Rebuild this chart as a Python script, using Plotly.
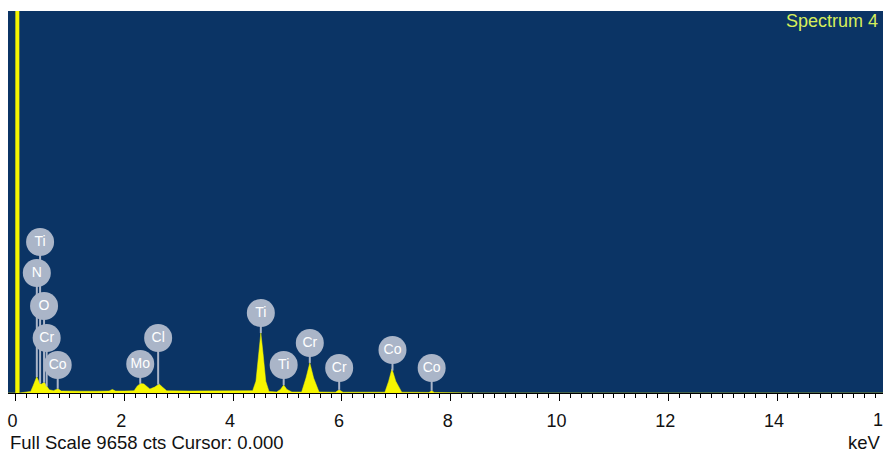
import numpy as np
import plotly.graph_objects as go

# ---------------- data ----------------
energy_kev = [-0.14, -0.01, 0.0, 0.005, 0.06, 0.07, 0.20, 0.28, 0.33, 0.39, 0.44, 0.47,
              0.53, 0.58, 0.62, 0.70, 0.78, 0.84, 0.95, 1.20, 1.50, 1.72, 1.78, 1.84,
              2.00, 2.18, 2.24, 2.30, 2.36, 2.47, 2.56, 2.64, 2.70, 2.78, 3.20, 3.80,
              4.20, 4.36, 4.42, 4.47, 4.51, 4.55, 4.60, 4.66, 4.80, 4.87, 4.93, 4.99,
              5.08, 5.26, 5.34, 5.41, 5.48, 5.58, 5.88, 5.95, 6.02, 6.79, 6.86, 6.92,
              6.99, 7.10, 7.60, 7.65, 7.70, 8.50, 10.0, 12.0, 14.0, 16.0]
counts = [0, 0, 0, 20000, 20000, 0, 20, 40, 200, 410, 260, 220,
          270, 150, 80, 60, 110, 50, 45, 45, 45, 50, 90, 50,
          50, 55, 180, 240, 230, 100, 150, 230, 150, 55, 50, 50,
          55, 60, 300, 1000, 1517, 1000, 300, 40, 25, 90, 200, 90,
          25, 25, 380, 760, 380, 25, 20, 80, 20, 20, 300, 610,
          300, 20, 15, 55, 15, 0, 0, 0, 0, 0]

peak_labels = ["Ti", "N", "O", "Cr", "Co", "Mo", "Cl", "Ti", "Ti", "Cr", "Cr", "Co", "Co"]
peak_energy = [0.452, 0.392, 0.525, 0.573, 0.776, 2.293, 2.622, 4.51, 4.93, 5.41, 5.95, 6.93, 7.65]

tick_values = [0, 2, 4, 6, 8, 10, 12, 14, 16]
full_scale_cts = 9658
cursor_kev = 0.000
spectrum_name = "Spectrum 4"
axis_unit = "keV"

# ---------------- style / layout ----------------
W, H = 883, 457
PLOT_TOP, PLOT_BOTTOM, PLOT_LEFT = 11, 393, 8
BG = "#0b3465"
YELLOW = "#f6f600"
BUBBLE = "#aab5c8"
FONT = "Liberation Sans, Arial, sans-serif"

# vertical pixel level of each label bubble (centre)
bubble_px = [242, 273, 306, 338, 365, 364, 338, 313, 365, 343, 368, 350, 368]

plot_h = PLOT_BOTTOM - PLOT_TOP


def px_to_counts(ypx):
    return (PLOT_BOTTOM - ypx) / plot_h * full_scale_cts


bubble_y = [px_to_counts(v) for v in bubble_px]
peak_top = list(np.interp(peak_energy, energy_kev, counts))

stem_x, stem_y = [], []
for e, by, py in zip(peak_energy, bubble_y, peak_top):
    stem_x += [e, e, None]
    stem_y += [by, py, None]

fig = go.Figure()
fig.add_trace(go.Scatter(x=energy_kev, y=counts, mode="lines", fill="tozeroy",
                         fillcolor=YELLOW, line=dict(color=YELLOW, width=0.5),
                         hoverinfo="skip", showlegend=False))
fig.add_trace(go.Scatter(x=stem_x, y=stem_y, mode="lines",
                         line=dict(color=BUBBLE, width=2),
                         hoverinfo="skip", showlegend=False))
fig.add_trace(go.Scatter(x=peak_energy, y=bubble_y, mode="markers+text",
                         text=peak_labels, textposition="middle center",
                         textfont=dict(family=FONT, size=14, color="white"),
                         marker=dict(size=28, color=BUBBLE, line=dict(width=0)),
                         hoverinfo="skip", showlegend=False))

px_per_kev = 54.4
x0_px = 15.5
x_lo = (PLOT_LEFT - x0_px) / px_per_kev
x_hi = (W - x0_px) / px_per_kev

text_y = -(442 - PLOT_BOTTOM) / plot_h
ticklabel_y = -(420 - PLOT_BOTTOM) / plot_h

# tick labels that fall just beyond the visible range (partly cut at the edge)
edge_ticks = [v for v in tick_values if v > x_hi]

annotations = [
    dict(text=f"Full Scale {full_scale_cts} cts Cursor: {cursor_kev:.3f}",
         xref="paper", yref="paper", x=0, y=text_y,
         xanchor="left", yanchor="middle", showarrow=False, xshift=0,
         font=dict(family=FONT, size=18.5, color="#111")),
    dict(text=axis_unit, xref="paper", yref="paper", x=1, y=text_y,
         xanchor="right", yanchor="middle", showarrow=False,
         font=dict(family=FONT, size=18.5, color="#111")),
    dict(text=spectrum_name, xref="paper", yref="paper", x=1,
         y=1 - (21 - PLOT_TOP) / plot_h, xanchor="right", yanchor="middle",
         xshift=-3, showarrow=False,
         font=dict(family=FONT, size=18, color="#d6ee5a")),
]
for v in edge_ticks:
    annotations.append(dict(text=str(v), xref="paper", yref="paper",
                            x=(v - x_lo) / (x_hi - x_lo), y=ticklabel_y,
                            xanchor="center", yanchor="middle", showarrow=False,
                            xshift=-3, font=dict(family=FONT, size=18, color="#111")))

fig.update_layout(
    width=W, height=H,
    margin=dict(l=PLOT_LEFT, r=0, t=PLOT_TOP, b=H - PLOT_BOTTOM),
    paper_bgcolor="white", plot_bgcolor=BG,
    font=dict(family=FONT, size=17, color="#111"),
    xaxis=dict(range=[x_lo, x_hi], tickvals=tick_values,
               ticktext=[str(v) for v in tick_values],
               ticks="outside", ticklen=7, tickcolor="black", tickwidth=1,
               showline=True, linecolor="black", linewidth=1,
               showgrid=False, zeroline=False, ticklabelshift=-3,
               ticklabelstandoff=4,
               minor=dict(dtick=0.2, tick0=0, ticks="outside", ticklen=4,
                          tickcolor="black", tickwidth=1, showgrid=False),
               tickfont=dict(family=FONT, size=18, color="#111")),
    yaxis=dict(range=[0, full_scale_cts], visible=False, showgrid=False, zeroline=False),
    annotations=annotations,
)

fig.write_html("out.html", config={"displayModeBar": False, "staticPlot": True},
               post_script="document.body.style.margin='0';document.body.style.overflow='hidden';")
